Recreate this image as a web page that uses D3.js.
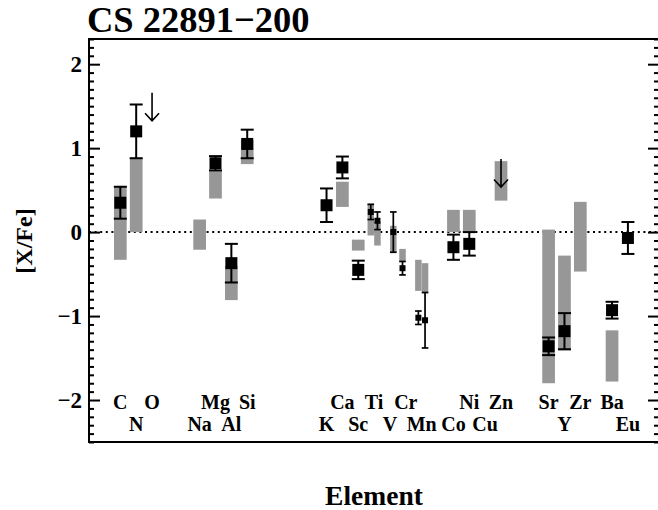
<!DOCTYPE html>
<html>
<head>
<meta charset="utf-8">
<script src="https://cdn.jsdelivr.net/npm/d3@7"></script>
<style>
  html, body { margin: 0; padding: 0; background: #fff; }
  svg { display: block; }
  text { font-family: "Liberation Serif", "Times New Roman", serif; font-weight: bold; fill: #000; }
</style>
</head>
<body>
<svg id="chart" width="658" height="510"></svg>
<script>
// Element sequence along the x axis (slots leave room for skipped elements)
const elements      = ["C","N","O","Na","Mg","Al","Si","K","Ca","Sc","Ti","V","Cr","Mn","Co","Ni","Cu","Zn","Sr","Y","Zr","Ba","Eu"];
const atomicNumbers = [6,7,8,11,12,13,14,19,20,21,22,23,24,25,27,28,29,30,38,39,40,56,63];
const slots         = [0,1,2,5,6,7,8,13,14,15,16,17,18,19,21,22,23,24,27,28,29,31,32];

// Measured [X/Fe] with 1-sigma errors; species: 0 = element, 1 = neutral (I), 2 = ionised (II)
const obsElement = ["C","N","Mg","Al","Si","K","Ca","Sc","Ti","Ti","V","Cr","Mn","Mn","Co","Ni","Sr","Y","Ba","Eu"];
const obsSpecies = [0,0,0,0,0,0,0,0,1,2,2,1,1,2,0,0,0,0,0,0];
const obsValue   = [0.35,1.20,0.82,-0.37,1.05,0.32,0.77,-0.45,0.24,0.135,0.0,-0.43,-1.02,-1.05,-0.18,-0.14,-1.36,-1.18,-0.93,-0.07];
const obsError   = [0.19,0.32,0.085,0.23,0.17,0.20,0.13,0.11,0.09,0.105,0.24,0.08,0.08,0.33,0.15,0.14,0.105,0.215,0.10,0.19];

// Model ranges (grey bars)
const modelElement = ["C","N","Na","Mg","Al","Si","Ca","Sc","Ti","Ti","V","Cr","Mn","Mn","Co","Ni","Zn","Sr","Y","Zr","Ba"];
const modelSpecies = [0,0,0,0,0,0,0,0,1,2,2,1,1,2,0,0,0,0,0,0,0];
const modelHigh    = [0.55,0.88,0.15,0.73,-0.40,1.10,0.60,-0.09,0.34,0.125,0.075,-0.20,-0.33,-0.37,0.265,0.265,0.845,0.03,-0.28,0.36,-1.17];
const modelLow     = [-0.33,0.0,-0.21,0.40,-0.81,0.81,0.30,-0.22,-0.04,-0.16,-0.24,-0.35,-0.70,-0.72,0.0,0.0,0.375,-1.80,-1.41,-0.47,-1.78];

// Upper limits (arrows)
const limitElement = ["O","Zn"];
const limitValue   = [1.66, 0.87];

// Y axis ticks
const yMajorTicks  = [-2,-1,0,1,2];
const yTickLabels  = ["\u22122","\u22121","0","1","2"];

const slotOf = name => slots[elements.indexOf(name)];

const svg = d3.select("#chart");
const plotLeft = 89, plotRight = 659, plotTop = 39, plotBottom = 442;

const x = d3.scaleLinear().domain([-1.975, 33.96]).range([plotLeft, plotRight]);
const y = d3.scaleLinear().domain([-2.5, 2.3]).range([plotBottom, plotTop]);
const unit = x(1) - x(0);
const half = unit * 0.21;

function cx(name, species) {
  const c = x(slotOf(name));
  return species === 1 ? c - half : species === 2 ? c + half : c;
}

// zero line
svg.append("line")
  .attr("x1", plotLeft).attr("x2", plotRight)
  .attr("y1", y(0)).attr("y2", y(0))
  .attr("stroke", "#000").attr("stroke-width", 2)
  .attr("stroke-dasharray", "2,3.6");

// Model ranges
const bars = modelElement.map((e, i) => ({e, s: modelSpecies[i], hi: modelHigh[i], lo: modelLow[i]}));
svg.append("g").selectAll("rect").data(bars).join("rect")
  .attr("x", d => d.s === 0 ? cx(d.e, 0) - unit * 0.4 : cx(d.e, d.s) - unit * 0.205)
  .attr("width", d => d.s === 0 ? unit * 0.8 : unit * 0.41)
  .attr("y", d => y(d.hi))
  .attr("height", d => y(d.lo) - y(d.hi))
  .attr("fill", "#979797");

// Measurements with error bars
const obs = obsElement.map((e, i) => ({e, s: obsSpecies[i], v: obsValue[i], err: obsError[i]}));
const gObs = svg.append("g").attr("stroke", "#000");
obs.forEach(d => {
  const px = cx(d.e, d.s);
  const small = d.s !== 0;
  const cap = small ? 3.3 : 6.5;
  const sw = small ? 1.7 : 2;
  const yHi = y(d.v + d.err), yLo = y(d.v - d.err);
  gObs.append("line").attr("x1", px).attr("x2", px).attr("y1", yHi).attr("y2", yLo).attr("stroke-width", sw);
  gObs.append("line").attr("x1", px - cap).attr("x2", px + cap).attr("y1", yHi).attr("y2", yHi).attr("stroke-width", sw);
  gObs.append("line").attr("x1", px - cap).attr("x2", px + cap).attr("y1", yLo).attr("y2", yLo).attr("stroke-width", sw);
  const size = small ? 6 : 12;
  gObs.append("rect").attr("x", px - size / 2).attr("y", y(d.v) - size / 2)
    .attr("width", size).attr("height", size).attr("fill", "#000").attr("stroke", "none");
});

// Upper-limit arrows
limitElement.forEach((e, i) => {
  const px = x(slotOf(e));
  const y0 = y(limitValue[i]);
  const y1 = y0 + 28;
  svg.append("path")
    .attr("d", `M${px},${y0}L${px},${y1}M${px - 7},${y1 - 7.5}L${px},${y1}L${px + 7},${y1 - 7.5}`)
    .attr("fill", "none").attr("stroke", "#000").attr("stroke-width", 1.6);
});

// Axes: major and minor ticks pointing inward on both sides
const minorTicks = d3.range(-25, 24).map(v => v / 10).filter(v => Math.abs(v - Math.round(v)) > 1e-6);

const leftMajor = d3.axisLeft(y).tickValues(yMajorTicks).tickSize(-11).tickSizeOuter(0).tickPadding(7)
  .tickFormat((d, i) => yTickLabels[i]);
const gl = svg.append("g").attr("transform", `translate(${plotLeft},0)`).call(leftMajor);
gl.select(".domain").remove();
gl.selectAll("line").attr("stroke-width", 2);
gl.selectAll("text").attr("font-size", 23).attr("font-family", "Liberation Serif, serif").attr("font-weight", "bold");

const leftMinor = d3.axisLeft(y).tickValues(minorTicks).tickSize(-5).tickSizeOuter(0).tickFormat("");
const glm = svg.append("g").attr("transform", `translate(${plotLeft},0)`).call(leftMinor);
glm.select(".domain").remove();
glm.selectAll("line").attr("stroke-width", 2);

const rightMajor = d3.axisRight(y).tickValues(yMajorTicks).tickSize(-11).tickSizeOuter(0).tickFormat("");
const gr = svg.append("g").attr("transform", `translate(${plotRight},0)`).call(rightMajor);
gr.select(".domain").remove();
gr.selectAll("line").attr("stroke-width", 2);
const rightMinor = d3.axisRight(y).tickValues(minorTicks).tickSize(-5).tickSizeOuter(0).tickFormat("");
const grm = svg.append("g").attr("transform", `translate(${plotRight},0)`).call(rightMinor);
grm.select(".domain").remove();
grm.selectAll("line").attr("stroke-width", 2);

// Frame
svg.append("rect").attr("x", plotLeft).attr("y", plotTop).attr("width", plotRight - plotLeft).attr("height", plotBottom - plotTop)
  .attr("fill", "none").attr("stroke", "#000").attr("stroke-width", 2);

// Element labels in two staggered rows (even Z on top)
svg.append("g").selectAll("text").data(elements).join("text")
  .attr("x", (d, i) => x(slots[i]))
  .attr("y", (d, i) => atomicNumbers[i] % 2 === 0 ? 409 : 431)
  .attr("text-anchor", "middle")
  .attr("font-size", 20)
  .text(d => d);

// Titles
svg.append("text").attr("x", 87).attr("y", 32).attr("font-size", 36.5).text("CS 22891\u2212200");
svg.append("text").attr("x", 374).attr("y", 505).attr("text-anchor", "middle")
  .attr("font-size", 27.5).text("Element");
svg.append("text").attr("transform", `translate(32,241) rotate(-90)`).attr("text-anchor", "middle")
  .attr("font-size", 24).text("[X/Fe]");
</script>
</body>
</html>
